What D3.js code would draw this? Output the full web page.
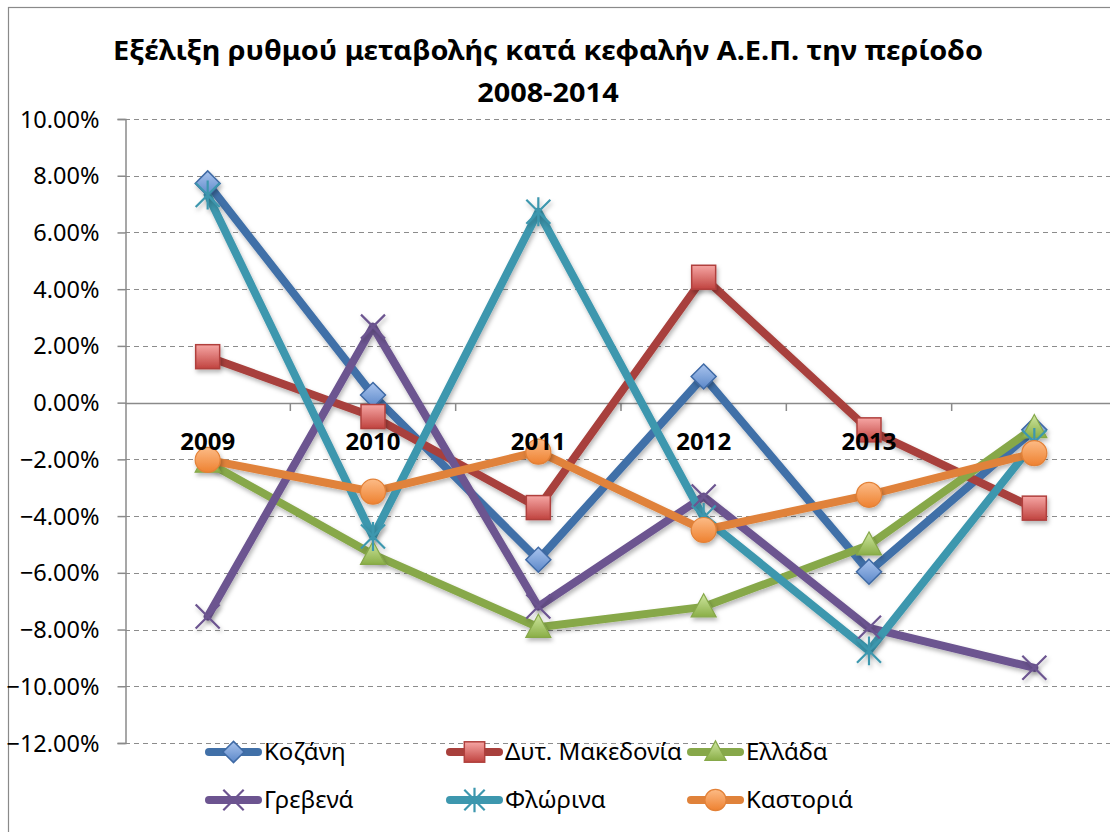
<!DOCTYPE html>
<html>
<head>
<meta charset="utf-8">
<script src="https://cdn.jsdelivr.net/npm/d3@7"></script>
<style>
  html, body { margin: 0; padding: 0; background: #fff; }
  svg { display: block; font-family: "Noto Sans", "DejaVu Sans", sans-serif; }
</style>
</head>
<body>
<svg id="chart" width="1110" height="832"></svg>
<script>
// ---- data ----
const categories = ["2009", "2010", "2011", "2012", "2013", "2014"];
const categoryLabels = ["2009", "2010", "2011", "2012", "2013", ""];
const kozani       = [7.73, 0.27, -5.54, 0.92, -5.96, -0.96];
const dytMakedonia = [1.62, -0.49, -3.70, 4.42, -0.96, -3.72];
const ellada       = [-2.10, -5.35, -7.92, -7.20, -5.02, -0.88];
const grevena      = [-7.54, 2.68, -7.19, -3.31, -7.94, -9.35];
const florina      = [7.32, -4.72, 6.73, -4.05, -8.75, -1.40];
const kastoria     = [-2.02, -3.14, -1.73, -4.49, -3.25, -1.78];
const seriesNames  = ["Κοζάνη", "Δυτ. Μακεδονία", "Ελλάδα", "Γρεβενά", "Φλώρινα", "Καστοριά"];
const yTicks = [10, 8, 6, 4, 2, 0, -2, -4, -6, -8, -10, -12];
const titleLines = ["Εξέλιξη ρυθμού μεταβολής κατά κεφαλήν Α.Ε.Π. την περίοδο", "2008-2014"];

// ---- styles ----
const styles = [
  { line: "#4170A8", fill: ["#A9C4EE", "#5B87C8"], stroke: "#3F6AA5", marker: "diamond" },
  { line: "#A8403C", fill: ["#F6A6A4", "#C0433F"], stroke: "#B0403D", marker: "square" },
  { line: "#87A84A", fill: ["#CFE7A0", "#8AAE47"], stroke: "#86A84A", marker: "triangle" },
  { line: "#6C5490", fill: null, stroke: "#6C5490", marker: "x" },
  { line: "#3D97AE", fill: null, stroke: "#3D97AE", marker: "star" },
  { line: "#E0823A", fill: ["#FCBB86", "#EE8130"], stroke: "#E38137", marker: "circle" }
];
const allSeries = [kozani, dytMakedonia, ellada, grevena, florina, kastoria];

const svg = d3.select("#chart");
const defs = svg.append("defs");
const shadow = defs.append("filter").attr("id", "shadow")
  .attr("x", "-50%").attr("y", "-50%").attr("width", "200%").attr("height", "200%");
shadow.append("feDropShadow").attr("dx", 1.5).attr("dy", 3).attr("stdDeviation", 2)
  .attr("flood-color", "#000").attr("flood-opacity", 0.28);
styles.forEach((s, i) => {
  if (!s.fill) return;
  const g = defs.append("linearGradient").attr("id", "grad" + i)
    .attr("x1", 0).attr("y1", 0).attr("x2", 0).attr("y2", 1);
  g.append("stop").attr("offset", "0%").attr("stop-color", s.fill[0]);
  g.append("stop").attr("offset", "100%").attr("stop-color", s.fill[1]);
});

// chart border
svg.append("rect").attr("x", 8.5).attr("y", 7.5).attr("width", 1300).attr("height", 1000)
  .attr("fill", "#fff").attr("stroke", "#8a8a8a").attr("stroke-width", 1.2);

// ---- scales ----
const plot = { left: 125, right: 1117, top: 119, bottom: 743 };
const x = d3.scalePoint().domain(categories).range([plot.left, plot.right]).padding(0.5);
const y = d3.scaleLinear().domain([-12, 10]).range([plot.bottom, plot.top]);

// gridlines
svg.append("g").selectAll("line").data(yTicks.filter(t => t !== 0)).join("line")
  .attr("x1", plot.left).attr("x2", 1110)
  .attr("y1", d => Math.round(y(d)) + 0.5).attr("y2", d => Math.round(y(d)) + 0.5)
  .attr("stroke", "#8c8c8c").attr("stroke-width", 1.2).attr("stroke-dasharray", "5,4");

// y axis
const yAxis = d3.axisLeft(y).tickValues(yTicks).tickSize(8).tickFormat(d => d3.format(".2f")(d) + "%");
const yg = svg.append("g").attr("transform", `translate(${plot.left + 0.5},0)`).call(yAxis);
yg.select(".domain").attr("stroke", "#8a8a8a").attr("stroke-width", 1.5);
yg.selectAll(".tick line").attr("stroke", "#8a8a8a").attr("stroke-width", 1.5);
yg.selectAll(".tick text").attr("font-size", 23.5).attr("fill", "#000")
  .attr("font-family", "Noto Sans").attr("x", -26).attr("dy", "0.34em");

// x axis at 0
const step = x.step();
const xTickPos = d3.range(1, categories.length + 1).map(i => plot.left + i * step);
const xg = svg.append("g");
xg.append("line").attr("x1", plot.left).attr("x2", 1110)
  .attr("y1", Math.round(y(0)) + 0.5).attr("y2", Math.round(y(0)) + 0.5)
  .attr("stroke", "#8a8a8a").attr("stroke-width", 1.5);
xg.selectAll("line.tk").data(xTickPos).join("line").attr("class", "tk")
  .attr("x1", d => d).attr("x2", d => d)
  .attr("y1", Math.round(y(0))).attr("y2", Math.round(y(0)) + 8)
  .attr("stroke", "#8a8a8a").attr("stroke-width", 1.5);

// ---- lines ----
const lineGen = d3.line().x((d, i) => x(categories[i])).y(d => y(d));
const linesG = svg.append("g").attr("filter", "url(#shadow)");
allSeries.forEach((vals, i) => {
  linesG.append("path").datum(vals).attr("d", lineGen)
    .attr("fill", "none").attr("stroke", styles[i].line).attr("stroke-width", 8)
    .attr("stroke-linejoin", "round").attr("stroke-linecap", "round");
});

// markers
function drawMarker(g, type, cx, cy, i, scale) {
  const s = styles[i];
  const k = scale || 1;
  const fill = s.fill ? `url(#grad${i})` : "none";
  if (type === "diamond") {
    const r = 12.5 * k;
    g.append("path").attr("d", `M${cx},${cy - r}L${cx + r},${cy}L${cx},${cy + r}L${cx - r},${cy}Z`)
      .attr("fill", fill).attr("stroke", s.stroke).attr("stroke-width", 1.5);
  } else if (type === "square") {
    const r = 12 * k;
    g.append("rect").attr("x", cx - r).attr("y", cy - r).attr("width", 2 * r).attr("height", 2 * r)
      .attr("fill", fill).attr("stroke", s.stroke).attr("stroke-width", 1.5);
  } else if (type === "triangle") {
    const r = 12.5 * k;
    g.append("path").attr("d", `M${cx},${cy - r * 1.05}L${cx + r},${cy + r * 0.8}L${cx - r},${cy + r * 0.8}Z`)
      .attr("fill", fill).attr("stroke", s.stroke).attr("stroke-width", 1.2);
  } else if (type === "circle") {
    g.append("circle").attr("cx", cx).attr("cy", cy).attr("r", 12.5 * k)
      .attr("fill", fill).attr("stroke", s.stroke).attr("stroke-width", 1.2);
  } else if (type === "x" || type === "star") {
    const r = 12 * k;
    let d = `M${cx - r},${cy - r}L${cx + r},${cy + r}M${cx - r},${cy + r}L${cx + r},${cy - r}`;
    if (type === "star") d += `M${cx},${cy - r * 1.2}L${cx},${cy + r * 1.2}`;
    g.append("path").attr("d", d).attr("fill", "none").attr("stroke", s.stroke).attr("stroke-width", 2.2);
  }
}
const markersG = svg.append("g").attr("filter", "url(#shadow)");
allSeries.forEach((vals, i) => {
  vals.forEach((v, j) => drawMarker(markersG, styles[i].marker, x(categories[j]), y(v), i));
});

// category labels (drawn above the series, as in the reference)
svg.append("g").selectAll("text").data(categories).join("text")
  .attr("x", d => x(d)).attr("y", 450)
  .attr("text-anchor", "middle").attr("font-weight", "bold").attr("font-size", 24)
  .text((d, i) => categoryLabels[i]);

// ---- legend ----
const legendPos = [
  { x: 205, y: 752 }, { x: 446, y: 752 }, { x: 687, y: 752 },
  { x: 205, y: 800 }, { x: 446, y: 800 }, { x: 687, y: 800 }
];
const legG = svg.append("g");
seriesNames.forEach((name, i) => {
  const p = legendPos[i];
  const g = legG.append("g");
  g.append("line").attr("x1", p.x + 4).attr("x2", p.x + 53).attr("y1", p.y).attr("y2", p.y)
    .attr("stroke", styles[i].line).attr("stroke-width", 8).attr("stroke-linecap", "round");
  drawMarker(g, styles[i].marker, p.x + 28.5, p.y, i, 0.85);
  g.append("text").attr("x", p.x + 59).attr("y", p.y).attr("dy", "0.35em")
    .attr("font-size", 24).attr("fill", "#000").text(name);
});

// ---- title ----
const titleG = svg.append("g");
const tfs = 27;
const t1 = titleG.append("text").attr("x", 548).attr("y", 60).attr("text-anchor", "middle")
  .attr("font-weight", "bold").attr("font-size", tfs).text(titleLines[0]);
const w1 = t1.node().getComputedTextLength();
const squeeze = 870 / w1;
t1.attr("textLength", 870).attr("lengthAdjust", "spacingAndGlyphs");
const t2 = titleG.append("text").attr("x", 548).attr("y", 102).attr("text-anchor", "middle")
  .attr("font-weight", "bold").attr("font-size", tfs).text(titleLines[1]);
const w2 = t2.node().getComputedTextLength();
t2.attr("textLength", w2 * squeeze).attr("lengthAdjust", "spacingAndGlyphs");
</script>
</body>
</html>
